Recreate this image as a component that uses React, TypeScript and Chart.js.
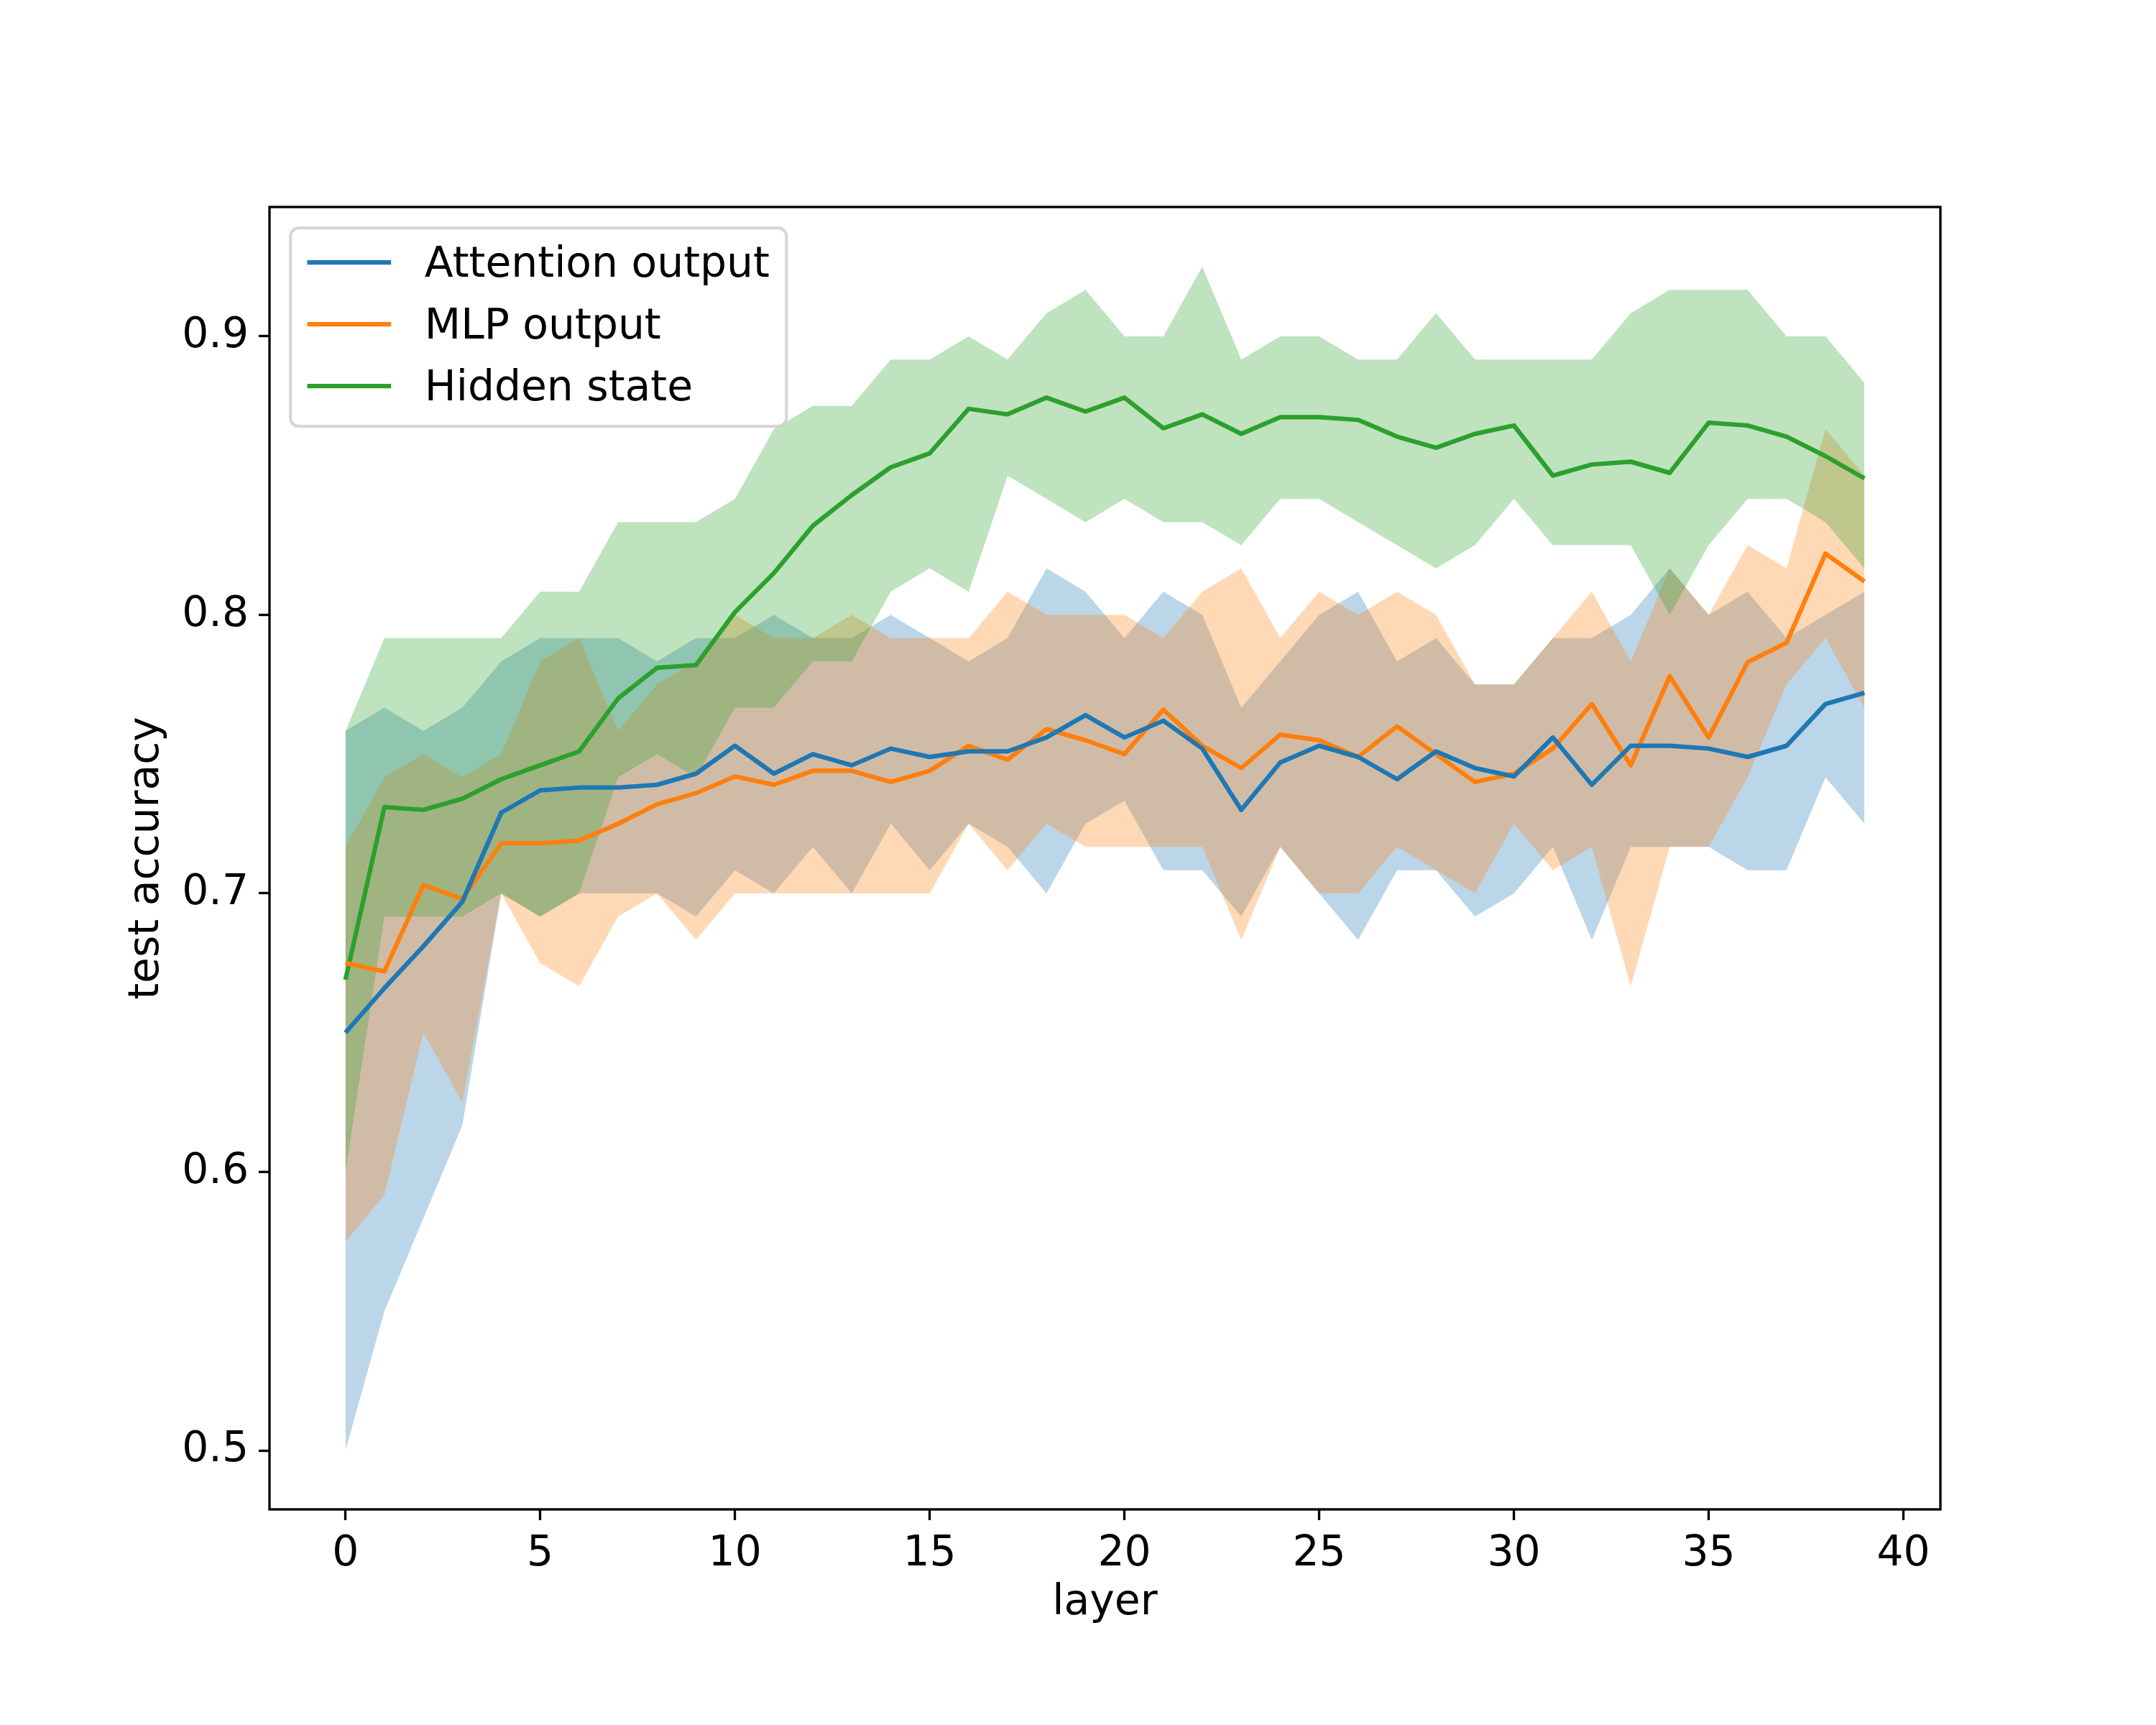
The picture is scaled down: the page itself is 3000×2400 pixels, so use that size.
import { useEffect, useRef } from "react";
import { Chart, registerables } from "chart.js";

Chart.register(...registerables);

// layer index on the x axis
const LAYERS = [
  0, 1, 2, 3, 4, 5, 6, 7, 8, 9, 10, 11, 12, 13, 14, 15, 16, 17, 18, 19,
  20, 21, 22, 23, 24, 25, 26, 27, 28, 29, 30, 31, 32, 33, 34, 35, 36, 37, 38, 39,
];

const X_TICKS = [0, 5, 10, 15, 20, 25, 30, 35, 40];
const Y_TICKS = [0.5, 0.6, 0.7, 0.8, 0.9];

const SERIES_LABELS = ["Attention output", "MLP output", "Hidden state"];

// mean test accuracy per layer
const attnMean = [
  0.65, 0.666, 0.681, 0.697, 0.729, 0.737, 0.738, 0.738, 0.739, 0.743,
  0.753, 0.743, 0.75, 0.746, 0.752, 0.749, 0.751, 0.751, 0.756, 0.764,
  0.756, 0.762, 0.752, 0.73, 0.747, 0.753, 0.749, 0.741, 0.751, 0.745,
  0.742, 0.756, 0.739, 0.753, 0.753, 0.752, 0.749, 0.753, 0.768, 0.772,
];
const mlpMean = [
  0.675, 0.672, 0.703, 0.698, 0.718, 0.718, 0.719, 0.725, 0.732, 0.736,
  0.742, 0.739, 0.744, 0.744, 0.74, 0.744, 0.753, 0.748, 0.759, 0.755,
  0.75, 0.766, 0.753, 0.745, 0.757, 0.755, 0.749, 0.76, 0.75, 0.74,
  0.743, 0.752, 0.768, 0.746, 0.778, 0.756, 0.783, 0.79, 0.822, 0.812,
];
const hiddenMean = [
  0.669, 0.731, 0.73, 0.734, 0.741, 0.746, 0.751, 0.77, 0.781, 0.782,
  0.801, 0.815, 0.832, 0.843, 0.853, 0.858, 0.874, 0.872, 0.878, 0.873,
  0.878, 0.867, 0.872, 0.865, 0.871, 0.871, 0.87, 0.864, 0.86, 0.865,
  0.868, 0.85, 0.854, 0.855, 0.851, 0.869, 0.868, 0.864, 0.857, 0.849,
];

// min / max band per layer
const attnLow = [
  0.5, 0.55, 0.5833, 0.6167, 0.7, 0.6917, 0.7, 0.7, 0.7, 0.6917,
  0.7083, 0.7, 0.7167, 0.7, 0.725, 0.7083, 0.725, 0.7167, 0.7, 0.725,
  0.7333, 0.7083, 0.7083, 0.6917, 0.7167, 0.7, 0.6833, 0.7083, 0.7083, 0.6917,
  0.7, 0.7167, 0.6833, 0.7167, 0.7167, 0.7167, 0.7083, 0.7083, 0.7417, 0.725,
];
const attnHigh = [
  0.7583, 0.7667, 0.7583, 0.7667, 0.7833, 0.7917, 0.7917, 0.7917, 0.7833, 0.7917,
  0.7917, 0.8, 0.7917, 0.7917, 0.8, 0.7917, 0.7833, 0.7917, 0.8167, 0.8083,
  0.7917, 0.8083, 0.8, 0.7667, 0.7833, 0.8, 0.8083, 0.7833, 0.7917, 0.775,
  0.775, 0.7917, 0.7917, 0.8, 0.8167, 0.8, 0.8083, 0.7917, 0.8, 0.8083,
];
const mlpLow = [
  0.575, 0.5917, 0.65, 0.625, 0.7, 0.675, 0.6667, 0.6917, 0.7, 0.6833,
  0.7, 0.7, 0.7, 0.7, 0.7, 0.7, 0.725, 0.7083, 0.725, 0.7167,
  0.7167, 0.7167, 0.7167, 0.6833, 0.7167, 0.7, 0.7, 0.7167, 0.7083, 0.7,
  0.725, 0.7083, 0.7167, 0.6667, 0.7167, 0.7167, 0.7417, 0.775, 0.7917, 0.7667,
];
const mlpHigh = [
  0.7167, 0.7417, 0.75, 0.7417, 0.75, 0.7833, 0.7917, 0.7583, 0.775, 0.7833,
  0.8, 0.7917, 0.7917, 0.8, 0.7917, 0.7917, 0.7917, 0.8083, 0.8, 0.8,
  0.8, 0.7917, 0.8083, 0.8167, 0.7917, 0.8083, 0.8, 0.8083, 0.8, 0.775,
  0.775, 0.7917, 0.8083, 0.7833, 0.8167, 0.8, 0.825, 0.8167, 0.8667, 0.85,
];
const hiddenLow = [
  0.6, 0.6917, 0.6917, 0.6917, 0.7, 0.6917, 0.7, 0.7417, 0.75, 0.7417,
  0.7667, 0.7667, 0.7833, 0.7833, 0.8083, 0.8167, 0.8083, 0.85, 0.8417, 0.8333,
  0.8417, 0.8333, 0.8333, 0.825, 0.8417, 0.8417, 0.8333, 0.825, 0.8167, 0.825,
  0.8417, 0.825, 0.825, 0.825, 0.8, 0.825, 0.8417, 0.8417, 0.8333, 0.8167,
];
const hiddenHigh = [
  0.7583, 0.7917, 0.7917, 0.7917, 0.7917, 0.8083, 0.8083, 0.8333, 0.8333, 0.8333,
  0.8417, 0.8667, 0.875, 0.875, 0.8917, 0.8917, 0.9, 0.8917, 0.9083, 0.9167,
  0.9, 0.9, 0.925, 0.8917, 0.9, 0.9, 0.8917, 0.8917, 0.9083, 0.8917,
  0.8917, 0.8917, 0.8917, 0.9083, 0.9167, 0.9167, 0.9167, 0.9, 0.9, 0.8833,
];

const LINE_COLORS = ["#1f77b4", "#ff7f0e", "#2ca02c"];
const BAND_COLORS = ["rgba(31,119,180,0.3)", "rgba(255,127,14,0.3)", "rgba(44,160,44,0.3)"];

const FONT = "DejaVu Sans";
const FS = 58.33; // 14pt at 300 dpi

const pts = (ys: number[]) => LAYERS.map((x, i) => ({ x, y: ys[i] }));

const bandEdge = (ys: number[], order: number) => ({
  data: pts(ys),
  borderWidth: 0,
  borderColor: "rgba(0,0,0,0)",
  pointRadius: 0,
  fill: false,
  order,
});

const bandTop = (ys: number[], color: string, order: number) => ({
  data: pts(ys),
  borderWidth: 0,
  borderColor: "rgba(0,0,0,0)",
  backgroundColor: color,
  pointRadius: 0,
  fill: "-1",
  order,
});

const meanLine = (label: string, ys: number[], color: string) => ({
  label,
  data: pts(ys),
  borderColor: color,
  borderWidth: 6.25,
  borderJoinStyle: "round" as const,
  pointRadius: 0,
  fill: false,
  order: 0,
});

const frameAndLegend = {
  id: "frameAndLegend",
  afterDatasetsDraw(chart: Chart) {
    const { ctx, chartArea } = chart;
    ctx.save();
    // axes box
    ctx.strokeStyle = "#000";
    ctx.lineWidth = 3.33;
    ctx.strokeRect(chartArea.left, chartArea.top, chartArea.right - chartArea.left, chartArea.bottom - chartArea.top);

    // legend, upper left
    ctx.font = `${FS}px "${FONT}"`;
    const widest = Math.max(...SERIES_LABELS.map((t) => ctx.measureText(t).width));
    const pad = 0.4 * FS;
    const handle = 2 * FS;
    const gap = 0.8 * FS;
    const rowH = 86;
    const x0 = chartArea.left + 0.5 * FS;
    const y0 = chartArea.top + 0.5 * FS;
    const w = pad * 2 + handle + gap + widest;
    const h = 276;
    ctx.beginPath();
    ctx.roundRect(x0, y0, w, h, 0.2 * FS);
    ctx.fillStyle = "rgba(255,255,255,0.8)";
    ctx.fill();
    ctx.strokeStyle = "rgba(204,204,204,0.8)";
    ctx.lineWidth = 4.2;
    ctx.stroke();

    ctx.textBaseline = "alphabetic";
    ctx.textAlign = "left";
    SERIES_LABELS.forEach((label, i) => {
      const cy = y0 + 48 + i * rowH;
      ctx.strokeStyle = LINE_COLORS[i];
      ctx.lineWidth = 6.25;
      ctx.lineCap = "butt";
      ctx.beginPath();
      ctx.moveTo(x0 + pad, cy);
      ctx.lineTo(x0 + pad + handle, cy);
      ctx.stroke();
      ctx.fillStyle = "#000";
      ctx.fillText(label, x0 + pad + handle + gap, cy + 20);
    });
    ctx.restore();
  },
};

const tickGrid = {
  display: true,
  drawOnChartArea: false,
  drawTicks: true,
  tickLength: 15,
  tickWidth: 3.33,
  tickColor: "#000",
};

export default function App() {
  const canvasRef = useRef<HTMLCanvasElement>(null);
  const chartRef = useRef<Chart | null>(null);

  useEffect(() => {
    if (!canvasRef.current) return;
    const ctx = canvasRef.current.getContext("2d");
    if (!ctx) return;

    if (chartRef.current) {
      chartRef.current.destroy();
    }

    Chart.defaults.font.family = FONT;
    Chart.defaults.color = "#000";

    chartRef.current = new Chart(ctx, {
      type: "line",
      data: {
        datasets: [
          bandEdge(attnLow, 3),
          bandTop(attnHigh, BAND_COLORS[0], 3),
          bandEdge(mlpLow, 2),
          bandTop(mlpHigh, BAND_COLORS[1], 2),
          bandEdge(hiddenLow, 1),
          bandTop(hiddenHigh, BAND_COLORS[2], 1),
          meanLine(SERIES_LABELS[0], attnMean, LINE_COLORS[0]),
          meanLine(SERIES_LABELS[1], mlpMean, LINE_COLORS[1]),
          meanLine(SERIES_LABELS[2], hiddenMean, LINE_COLORS[2]),
        ] as any,
      },
      options: {
        responsive: false,
        devicePixelRatio: 1,
        animation: false,
        events: [],
        layout: { padding: { top: 288, right: 300, left: 0, bottom: 0 } },
        plugins: {
          legend: { display: false },
          tooltip: { enabled: false },
        },
        elements: { line: { tension: 0 } },
        scales: {
          x: {
            type: "linear",
            min: -1.95,
            max: 40.95,
            afterBuildTicks: (s: any) => {
              s.ticks = X_TICKS.map((value) => ({ value }));
            },
            afterFit: (s: any) => {
              s.height = 300;
            },
            ticks: {
              font: { size: FS },
              color: "#000",
              padding: 13,
              maxRotation: 0,
              autoSkip: false,
              callback: (v: any) => String(v),
            },
            grid: tickGrid,
            border: { display: false },
            title: {
              display: true,
              text: "layer",
              color: "#000",
              font: { size: FS },
              padding: { top: 0, bottom: 134 },
            },
          },
          y: {
            type: "linear",
            min: 0.47884,
            max: 0.94645,
            afterBuildTicks: (s: any) => {
              s.ticks = Y_TICKS.map((value) => ({ value }));
            },
            afterFit: (s: any) => {
              s.width = 375;
            },
            ticks: {
              font: { size: FS },
              color: "#000",
              padding: 14,
              autoSkip: false,
              callback: (v: any) => Number(v).toFixed(1),
            },
            grid: tickGrid,
            border: { display: false },
            title: {
              display: true,
              text: "test accuracy",
              color: "#000",
              font: { size: FS },
              padding: { top: 170, bottom: 0 },
            },
          },
        },
      },
      plugins: [frameAndLegend],
    });

    return () => {
      chartRef.current?.destroy();
      chartRef.current = null;
    };
  }, []);

  return (
    <div style={{ position: "absolute", left: 0, top: 0, width: 3000, height: 2400, background: "#fff" }}>
      <canvas ref={canvasRef} width={3000} height={2400} style={{ display: "block" }} />
    </div>
  );
}
